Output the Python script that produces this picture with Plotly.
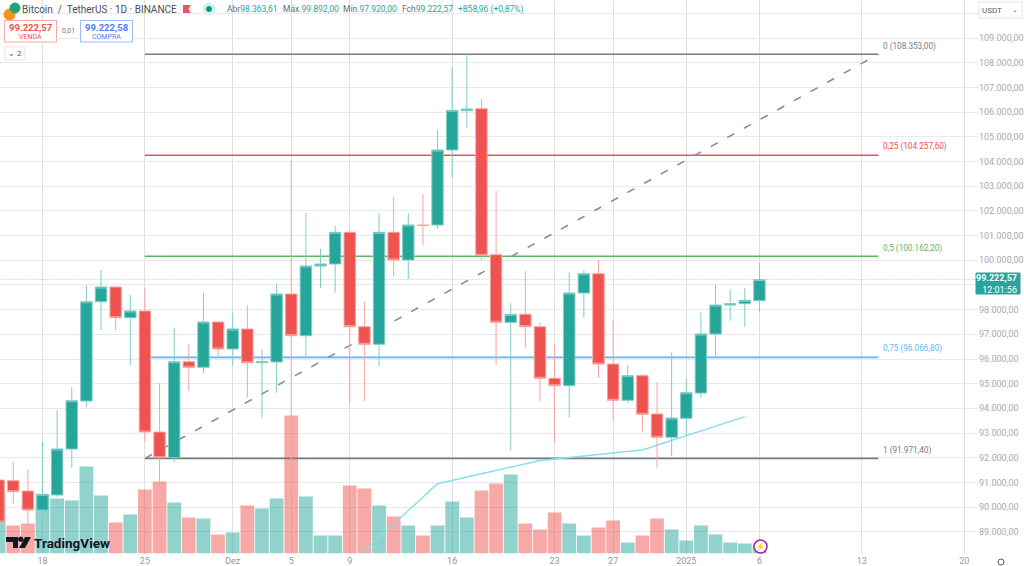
import pandas as pd
import plotly.graph_objects as go

W, H = 1024, 566
FONT = "Roboto, Liberation Sans, sans-serif"
TEAL, RED = "#26a69a", "#ef5350"

dates = pd.date_range("2024-11-15", "2025-01-06", freq="D").strftime("%Y-%m-%d").tolist()
opens = [91095, 91067, 90650, 89879, 90487, 92352, 94297, 98323, 98918, 97674, 97946, 93041, 92000,
         95891, 95664, 97500, 96405, 97216, 95850, 95878, 98635, 96944, 99770, 99851, 101136, 97309,
         96596, 101136, 100013, 101431, 101431, 104472, 106065, 106146, 100228, 97488, 97812, 97309,
         95218, 94918, 98675, 99458, 95797, 94326, 95323, 93771, 92826, 93596, 94622, 97013, 98189,
         98242, 98364]
highs = [91095, 91825, 91501, 92636, 93933, 94865, 98999, 99608, 98959, 98594, 98890, 95027, 97256,
         96608, 98675, 97500, 97877, 98189, 96365, 99040, 104066, 101918, 100459, 101391, 101229, 98323,
         101918, 102579, 101918, 102688, 105282, 107836, 108353, 106539, 102810, 98258, 99567, 97471,
         96567, 99514, 99608, 100013, 97581, 95757, 95392, 95056, 96272, 95189, 97877, 98999, 98809,
         98866, 99892]
lows = [89393, 90122, 88866, 89393, 90406, 91582, 94054, 97175, 97175, 95757, 92648, 90811, 91837,
        94703, 95433, 96122, 95728, 94431, 93620, 94634, 90568, 96040, 98878, 98687, 94216, 94297,
        95688, 99336, 99243, 100621, 101269, 103349, 105364, 100013, 95757, 92283, 96446, 94297,
        92595, 93620, 97674, 95242, 93527, 94216, 93053, 91594, 92068, 92879, 94431, 96122, 97552,
        97309, 97920]
closes = [89393, 90621, 89879, 90516, 92352, 94310, 98323, 98918, 97674, 97946, 93041, 92000, 95891,
          95664, 97500, 96405, 97216, 95850, 95891, 98635, 96944, 99770, 99851, 101136, 97309, 96596,
          101136, 100013, 101431, 101411, 104472, 106081, 106134, 100203, 97488, 97812, 97309, 95218,
          94918, 98675, 99458, 95797, 94326, 95323, 93758, 92826, 93608, 94634, 97013, 98189, 98242,
          98379, 99222.57]
volumes = [61, 28, 30, 59, 55, 53, 87, 58, 31, 39, 64, 72, 51, 36, 35, 19, 21, 48, 45, 55, 138, 57, 18, 18,
           68, 65, 48, 37, 28, 18, 28, 52, 36, 63, 70, 79, 30, 24, 41, 30, 18, 26, 33, 11, 18, 35, 24, 13,
           28, 19, 11, 10, 8]
volume_up = [1, 0, 0, 1, 1, 1, 1, 1, 0, 1, 0, 0, 1, 0, 1, 0, 1, 0, 1, 1, 0, 1, 1, 1, 0, 0, 1, 0, 1, 0, 1, 1,
             1, 0, 0, 1, 0, 0, 0, 1, 1, 0, 0, 1, 0, 0, 1, 1, 1, 1, 1, 1, 1]

fib_start, fib_end = "2024-11-25", "2025-01-14 03:00"
fib_levels = [108353.0, 104257.6, 100162.2, 96066.8, 91971.4]
fib_texts = ["0 (108.353,00)", "0,25 (104.257,60)", "0,5 (100.162,20)", "0,75 (96.066,80)", "1 (91.971,40)"]
fib_colors = ["#787b86", "#f0504c", "#5fb563", "#64b5f6", "#787b86"]

avg_dates = ["2024-12-08", "2024-12-15", "2024-12-22", "2024-12-29", "2025-01-05"]
avg_values = [87135, 90945, 91885, 92312, 93661]

last_price = 99222.57
price_ticks = list(range(89000, 111000, 1000))
hidden_price_labels = [99000, 110000]
price_labels = ["" if v in hidden_price_labels else f"{v // 1000}.000,00" for v in price_ticks]
time_ticks = ["2024-11-18", "2024-11-25", "2024-12-01", "2024-12-05", "2024-12-09", "2024-12-16", "2024-12-23",
              "2024-12-27", "2025-01-01", "2025-01-06", "2025-01-13", "2025-01-20"]
time_labels = ["18", "25", "Dez", "5", "9", "16", "23", "27", "2025", "6", "13", "20"]

fig = go.Figure()
fig.add_bar(x=dates, y=volumes, yaxis="y", showlegend=False,
            marker=dict(color=["rgba(38,166,154,0.5)" if u else "rgba(239,83,80,0.5)" for u in volume_up], line_width=0))

for lvl, col in zip(fib_levels, fib_colors):
    fig.add_scatter(x=[fib_start, fib_end], y=[lvl, lvl], yaxis="y2", mode="lines",
                    line=dict(color=col, width=1.6), showlegend=False)
fig.add_scatter(x=[fib_start, fib_end], y=[fib_levels[-1], fib_levels[0]], yaxis="y2", mode="lines",
                line=dict(color="#8a8d97", width=1.6, dash="8px,11px"), showlegend=False)
fig.add_scatter(x=avg_dates, y=avg_values, yaxis="y2", mode="lines",
                line=dict(color="#86dfea", width=1.4), showlegend=False)
fig.add_scatter(x=[dates[0], "2025-01-21"], y=[last_price, last_price], yaxis="y2", mode="lines",
                line=dict(color="#8fd3cc", width=1, dash="1px,2px"), showlegend=False)
fig.add_candlestick(x=dates, open=opens, high=highs, low=lows, close=closes, yaxis="y3", showlegend=False,
                    whiskerwidth=0,
                    increasing=dict(fillcolor=TEAL, line=dict(color="#7fcdc5", width=1)),
                    decreasing=dict(fillcolor=RED, line=dict(color="#f8a3a1", width=1)))


def px(x):
    return x / W


def py(y):
    return 1 - y / H


PLOT_BOTTOM = 553.5
TOP_PRICE, BOTTOM_PRICE = 110552, 88116
GRID_COLOR = "#e9e9ec"
shapes, notes = [], []


def note(x, y, text, size=9, color="#787b86", anchor="left", **kw):
    notes.append(dict(xref="paper", yref="paper", x=px(x), y=py(y), text=text, showarrow=False, xanchor=anchor,
                      yanchor="middle", font=dict(size=size, color=color, family=FONT), borderpad=0, **kw))


def box(x0, y0, x1, y1, line, fill="white", width=1, kind="rect"):
    shapes.append(dict(type=kind, xref="paper", yref="paper", x0=px(x0), x1=px(x1), y0=py(y0), y1=py(y1),
                       line=dict(color=line, width=width), fillcolor=fill, layer="above"))


def path(points, fill):
    d = "M " + " L ".join(f"{px(a):.5f},{py(b):.5f}" for a, b in points) + " Z"
    shapes.append(dict(type="path", xref="paper", yref="paper", path=d, fillcolor=fill, line_width=0, layer="above"))


# fib labels
for lvl_y, txt, col in zip([46, 146.5, 248, 348, 450], fib_texts, fib_colors):
    note(882, lvl_y, txt, size=8.2, color=col)

# header
box(4, 9, 15, 20, "#f7931a", "#f7931a", kind="circle")
box(10, 3, 20, 13, "#26a17b", "#26a17b", kind="circle")
note(21, 9, "Bitcoin  /  TetherUS · 1D · BINANCE", size=10, color="#4a4e5a")
path([(183, 5), (191, 5), (188.5, 9), (191, 13), (183, 13)], "#f2545b")
box(203, 3, 215, 15, "#d6f0ec", "#d6f0ec", kind="circle")
box(206.5, 6.5, 211.5, 11.5, "#089981", "#089981", kind="circle")
v = lambda s: f'<span style="color:#26a69a">{s}</span>'
note(226, 9, "Abr" + v("98.363,61"), size=8.5, color="#6a6d78")
note(281.5, 9, "Máx." + v("99.892,00"), size=8.5, color="#6a6d78")
note(342, 9, "Mín." + v("97.920,00"), size=8.5, color="#6a6d78")
note(401, 9, "Fch" + v("99.222,57"), size=8.5, color="#6a6d78")
note(457, 9, v("+858,96 (+0,87%)"), size=8.5, color="#6a6d78")

# buy and sell boxes
box(4.5, 20.5, 56.5, 42, "#f7a9a7", "white")
note(30.5, 27, "<b>99.222,57</b>", size=9.5, color="#f0504c", anchor="center")
note(30.5, 36.5, "VENDA", size=7, color="#f0504c", anchor="center")
note(68, 31, "0,01", size=7, color="#787b86", anchor="center")
box(80.5, 20.5, 132.5, 42, "#9db7fb", "white")
note(106.5, 27, "<b>99.222,58</b>", size=9.5, color="#4f7cf5", anchor="center")
note(106.5, 36.5, "COMPRA", size=7, color="#4f7cf5", anchor="center")
box(5, 47, 25, 60, "#e4e5e9", "white")
note(15, 53.5, "⌄ 2", size=8, color="#555863", anchor="center")

# currency selector
box(979, 2, 1022, 18, "#e4e5e9", "white")
note(981, 10, "USDT", size=8, color="#555863")
note(1019, 10, "⌄", size=7, color="#555863", anchor="right")

# last price tag
box(976, 273, 1020, 294, TEAL, TEAL)
note(1018, 283.5, "<b>99.222,57</b><br>12:01:56", size=9, color="white", anchor="right", align="right")

# TradingView logo
path([(6, 537), (18, 537), (18, 548), (13, 548), (13, 542), (6, 542)], "#131722")
box(18.5, 537, 23, 541.5, "#131722", "#131722", kind="circle")
path([(25, 537), (31, 537), (25, 548), (19, 548)], "#131722")
note(32.5, 542.5, "<b>TradingView</b>", size=13.5, color="#131722")

# lightning badge and settings icon
box(754, 540, 767, 553, "#9c27b0", "white", width=1.5, kind="circle")
note(760.5, 546.5, "⚡", size=7, color="#9c27b0", anchor="center")
box(998, 559, 1004, 565, "#555863", "white", kind="circle")

fig.update_layout(
    width=W, height=H, margin=dict(l=0, r=0, t=0, b=0), paper_bgcolor="white", plot_bgcolor="white",
    bargap=0.06, boxgap=0.22, boxgroupgap=0, boxmode="overlay", showlegend=False, hovermode=False,
    font=dict(family=FONT),
    xaxis=dict(type="date", domain=[0, 978 / W], range=["2024-11-15 02:17", "2025-01-20 22:30"], tickmode="array",
               tickvals=time_ticks, ticktext=time_labels, showgrid=True, gridcolor="#dfe0e4", gridwidth=1,
               tickfont=dict(size=9, color="#9598a1", family=FONT), ticks="", zeroline=False, showline=False,
               rangeslider=dict(visible=False), tickangle=0),
    yaxis=dict(domain=[1 - PLOT_BOTTOM / H, 1], range=[0, PLOT_BOTTOM], visible=False, showgrid=False),
    yaxis2=dict(overlaying="y", side="right", anchor="x", range=[BOTTOM_PRICE, TOP_PRICE], tickmode="array",
                tickvals=price_ticks, ticktext=price_labels, showgrid=True, gridcolor=GRID_COLOR, gridwidth=1.3,
                ticks="", tickfont=dict(size=9, color="#a6a9b1", family=FONT), zeroline=False, showline=False),
    yaxis3=dict(overlaying="y", matches="y2", side="right", anchor="x", visible=False, showgrid=False),
    shapes=shapes, annotations=notes,
)

fig.write_html("out.html", config=dict(displayModeBar=False),
               post_script="document.body.style.margin='0';document.documentElement.style.overflow='hidden';")
